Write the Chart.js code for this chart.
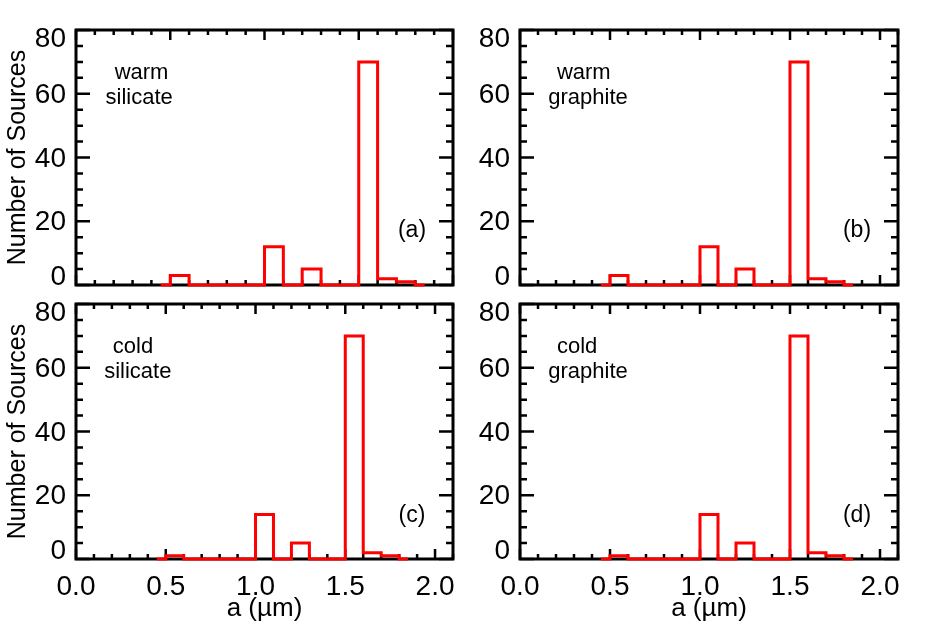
<!DOCTYPE html>
<html lang="en">
<head>
    <meta charset="UTF-8">
    <title>Grain size histograms</title>
    <script src="https://cdn.jsdelivr.net/npm/chart.js"></script>
    <style>
        body { margin: 0; background: #fff; }
        #wrap { position: relative; width: 945px; height: 629px; }
        canvas { position: absolute; }
    </style>
</head>
<body>
<div id="wrap">
    <canvas id="panelA" width="470" height="290" style="left:0;top:0"></canvas>
    <canvas id="panelB" width="475" height="290" style="left:470px;top:0"></canvas>
    <canvas id="panelC" width="470" height="339" style="left:0;top:290px"></canvas>
    <canvas id="panelD" width="475" height="339" style="left:470px;top:290px"></canvas>
</div>
<script>
    // histogram bins (left edges, um) and counts per panel
    const binLeft = [0.5, 0.6, 0.7, 0.8, 0.9, 1.0, 1.1, 1.2, 1.3, 1.4, 1.5, 1.6, 1.7];
    const binWidth = 0.1;
    const histStart = 0.45;
    const histEnd = 1.85;

    const warmSilicate = [3, 0, 0, 0, 0, 12, 0, 5, 0, 0, 70, 2, 1];
    const warmGraphite = [3, 0, 0, 0, 0, 12, 0, 5, 0, 0, 70, 2, 1];
    const coldSilicate = [1, 0, 0, 0, 0, 14, 0, 5, 0, 0, 70, 2, 1];
    const coldGraphite = [1, 0, 0, 0, 0, 14, 0, 5, 0, 0, 70, 2, 1];

    const xTicks = [0.0, 0.5, 1.0, 1.5, 2.0];
    const yTicks = [0, 20, 40, 60, 80];
    const xMaxes = [2.0, 2.1, 2.1, 2.1];

    const panelTags = ['(a)', '(b)', '(c)', '(d)'];
    const panelNames = [['warm', 'silicate'], ['warm', 'graphite'], ['cold', 'silicate'], ['cold', 'graphite']];

    const FONT = '"Liberation Sans", Arial, Helvetica, sans-serif';
    Chart.defaults.font.family = FONT;
    Chart.defaults.color = '#000';

    // frame, inward ticks, y labels and text inside the plot
    const panelDeco = {
        id: 'panelDeco',
        beforeDatasetsDraw(chart, args, opts) {
            const { ctx, chartArea: a, scales: { x, y } } = chart;
            ctx.save();
            ctx.strokeStyle = '#000';
            ctx.lineWidth = 3;
            ctx.strokeRect(a.left, a.top, a.right - a.left, a.bottom - a.top);
            ctx.lineWidth = 2.5;
            ctx.beginPath();
            const nx = Math.round(x.max / 0.1);
            for (let i = 0; i <= nx; i++) {
                const px = x.getPixelForValue(i * 0.1);
                const len = i % 5 === 0 ? 10 : 5;
                ctx.moveTo(px, a.bottom); ctx.lineTo(px, a.bottom - len);
                ctx.moveTo(px, a.top); ctx.lineTo(px, a.top + len);
            }
            for (let v = 0; v <= y.max; v += 5) {
                const py = y.getPixelForValue(v);
                const len = v % 20 === 0 ? 14 : 7;
                ctx.moveTo(a.left, py); ctx.lineTo(a.left + len, py);
                ctx.moveTo(a.right, py); ctx.lineTo(a.right - len, py);
            }
            ctx.stroke();
            ctx.restore();
        },
        afterDraw(chart, args, opts) {
            const { ctx, chartArea: a, scales: { x, y } } = chart;
            ctx.save();
            ctx.fillStyle = '#000';
            // y tick labels, end labels pulled inside like the original
            ctx.font = '28px ' + FONT;
            ctx.textAlign = 'right';
            ctx.textBaseline = 'middle';
            yTicks.forEach(v => {
                let py = y.getPixelForValue(v) + 1.5;
                if (v === y.max) py += 8;
                if (v === y.min) py -= 9;
                ctx.fillText(String(v), a.left - 10, py);
            });
            // material label
            ctx.font = '22px ' + FONT;
            ctx.textAlign = 'left';
            ctx.textBaseline = 'alphabetic';
            ctx.fillText(opts.name[0], x.getPixelForValue(0.205), y.getPixelForValue(64.5));
            ctx.fillText(opts.name[1], x.getPixelForValue(0.157), y.getPixelForValue(56.8));
            // panel tag
            ctx.font = '23px ' + FONT;
            ctx.textAlign = 'center';
            ctx.textBaseline = 'middle';
            ctx.fillText(opts.tag, a.right - 41, a.top + opts.tagOffset);
            ctx.restore();
        }
    };

    function histPoints(counts) {
        const pts = [{ x: histStart, y: 0 }];
        binLeft.forEach((b, i) => pts.push({ x: b, y: counts[i] }));
        pts.push({ x: binLeft[binLeft.length - 1] + binWidth, y: 0 });
        pts.push({ x: histEnd, y: 0 });
        return pts;
    }

    function makePanel(id, counts, idx, layout) {
        new Chart(document.getElementById(id), {
            type: 'line',
            data: {
                datasets: [{
                    data: histPoints(counts),
                    stepped: 'before',
                    borderColor: '#ff0000',
                    borderWidth: 3,
                    pointRadius: 0,
                    fill: false,
                    clip: false
                }]
            },
            options: {
                responsive: false,
                animation: false,
                devicePixelRatio: 1,
                layout: { padding: { top: layout.padTop, right: layout.padRight, left: 0, bottom: 0 } },
                plugins: {
                    legend: { display: false },
                    tooltip: { enabled: false },
                    panelDeco: { name: panelNames[idx], tag: panelTags[idx], tagOffset: layout.tagOffset }
                },
                scales: {
                    x: {
                        type: 'linear',
                        min: 0,
                        max: xMaxes[idx],
                        grid: { display: false, drawTicks: false },
                        border: { display: false },
                        afterBuildTicks: s => { s.ticks = xTicks.map(v => ({ value: v })); },
                        afterFit: s => { s.height = layout.xAxisH; s.paddingLeft = 0; s.paddingRight = 0; },
                        ticks: {
                            display: layout.showX,
                            padding: 11,
                            color: '#000',
                            font: { size: 28 },
                            maxRotation: 0,
                            callback: v => Number(v).toFixed(1)
                        },
                        title: {
                            display: layout.showX,
                            text: 'a (\u00b5m)',
                            color: '#000',
                            font: { size: 26 },
                            padding: { top: 0, bottom: 5 }
                        }
                    },
                    y: {
                        type: 'linear',
                        min: 0,
                        max: 80,
                        grid: { display: false, drawTicks: false },
                        border: { display: false },
                        afterBuildTicks: s => { s.ticks = yTicks.map(v => ({ value: v })); },
                        afterFit: s => { s.width = layout.yAxisW; s.paddingTop = 0; s.paddingBottom = 0; },
                        ticks: { display: false },
                        title: {
                            display: layout.showYTitle,
                            text: 'Number of Sources',
                            color: '#000',
                            font: { size: 25 },
                            padding: { top: 3, bottom: 0 }
                        }
                    }
                }
            },
            plugins: [panelDeco]
        });
    }

    makePanel('panelA', warmSilicate, 0, { padTop: 30, padRight: 17, yAxisW: 76, xAxisH: 5, showX: false, showYTitle: true, tagOffset: 201 });
    makePanel('panelB', warmGraphite, 1, { padTop: 30, padRight: 47, yAxisW: 50, xAxisH: 5, showX: false, showYTitle: false, tagOffset: 201 });
    makePanel('panelC', coldSilicate, 2, { padTop: 14, padRight: 17, yAxisW: 76, xAxisH: 70, showX: true, showYTitle: true, tagOffset: 212 });
    makePanel('panelD', coldGraphite, 3, { padTop: 14, padRight: 47, yAxisW: 50, xAxisH: 70, showX: true, showYTitle: false, tagOffset: 212 });
</script>
</body>
</html>
